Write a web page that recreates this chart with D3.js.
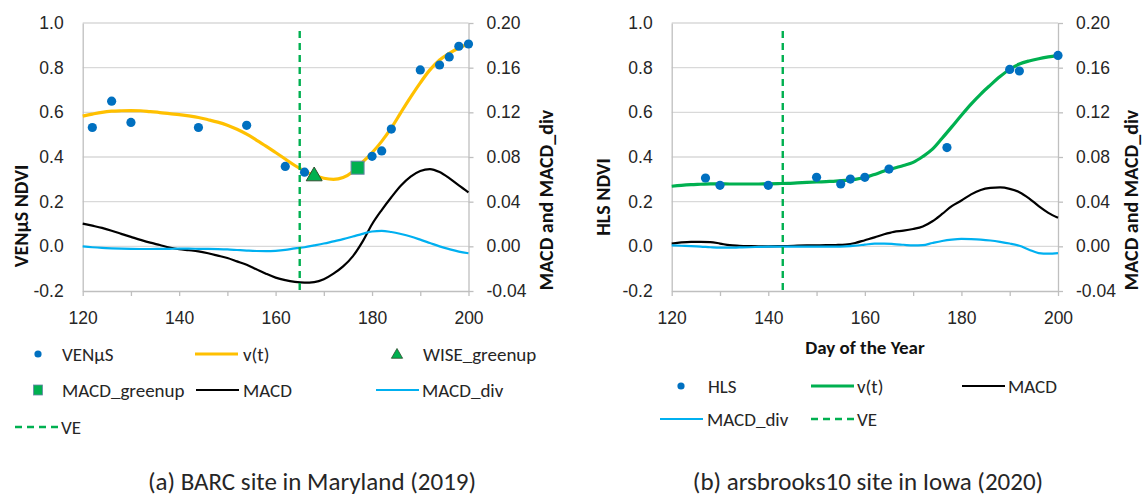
<!DOCTYPE html>
<html lang="en">
<head>
  <meta charset="UTF-8">
  <title>VENµS / HLS NDVI with MACD</title>
  <style>
    body { margin: 0; background: #fff; }
    svg { display: block; font-family: Calibri, Carlito, Lato, "Noto Sans", sans-serif; }
    .tick text { fill: #262626; font-size: 17.5px; }
    .axis .domain, .axis .tick line { stroke: #bfbfbf; stroke-width: 1.3; }
    .grid { stroke: #d9d9d9; stroke-width: 1.3; }
    .title { font-weight: bold; font-size: 20px; fill: #111; }
    .legend text { font-size: 19px; fill: #262626; }
    .caption { font-size: 25px; fill: #262626; }
  </style>
</head>
<body>
  <svg id="chart" width="1142" height="497"></svg>

  <script src="https://d3js.org/d3.v7.min.js"></script>
  <script>
    // shared x grid (day of year) for the fitted curves
    const dayGrid = [120, 122, 124, 126, 128, 130, 132, 134, 136, 138, 140,
      142, 144, 146, 148, 150, 152, 154, 156, 158, 160, 162, 164, 166, 168, 170,
      172, 174, 176, 178, 180, 182, 184, 186, 188, 190, 192, 194, 196, 198, 200];

    const ndviTicks = [-0.2, 0.0, 0.2, 0.4, 0.6, 0.8, 1.0];
    const macdTicks = [-0.04, 0.00, 0.04, 0.08, 0.12, 0.16, 0.20];
    const dayTicks = [120, 130, 140, 150, 160, 170, 180, 190, 200];

    // (a) BARC, Maryland 2019
    const barcObsDays = [122, 126, 130, 144, 154, 162, 166, 180, 182, 184, 190, 194, 196, 198, 200];
    const barcObsNdvi = [0.532, 0.65, 0.555, 0.532, 0.542, 0.358, 0.332, 0.403, 0.427, 0.525, 0.79, 0.812, 0.848, 0.896, 0.906];
    const barcVt = [0.583, 0.592, 0.600, 0.605, 0.607, 0.608, 0.607, 0.603, 0.599, 0.594, 0.590,
      0.584, 0.577, 0.567, 0.556, 0.542, 0.524, 0.502, 0.476, 0.449, 0.420, 0.391, 0.362, 0.337,
      0.318, 0.305, 0.300, 0.308, 0.334, 0.376, 0.419, 0.470, 0.530, 0.600, 0.668, 0.732, 0.790,
      0.834, 0.864, 0.888, 0.906];
    const barcMacd = [0.0204, 0.0185, 0.0165, 0.0140, 0.0112, 0.0085, 0.0058, 0.0033, 0.0012, -0.0010,
      -0.0026, -0.0035, -0.0045, -0.0062, -0.0083, -0.0105, -0.0135, -0.0165, -0.0205, -0.0245, -0.0280,
      -0.0303, -0.0318, -0.0325, -0.0320, -0.0295, -0.0245, -0.0180, -0.0090, 0.0040, 0.0198, 0.0325,
      0.0440, 0.0545, 0.0625, 0.0675, 0.0692, 0.0665, 0.0610, 0.0545, 0.0483];
    const barcMacdDiv = [0.0000, -0.0008, -0.0014, -0.0018, -0.0021, -0.0023, -0.0024, -0.0024, -0.0023,
      -0.0022, -0.0021, -0.0021, -0.0022, -0.0023, -0.0025, -0.0028, -0.0033, -0.0038, -0.0042, -0.0043,
      -0.0040, -0.0032, -0.0018, -0.0008, 0.0008, 0.0025, 0.0045, 0.0065, 0.0088, 0.0112, 0.0133, 0.0139,
      0.0128, 0.0110, 0.0088, 0.0060, 0.0030, 0.0000, -0.0025, -0.0047, -0.0062];
    const barcVE = 165;
    const barcWise = [168, 0.314];
    const barcMacdGreenup = [177, 0.352];

    // (b) arsbrooks10, Iowa 2020
    const iowaObsDays = [127, 130, 140, 150, 155, 157, 160, 165, 177, 190, 192, 200];
    const iowaObsNdvi = [0.306, 0.273, 0.273, 0.309, 0.279, 0.301, 0.309, 0.346, 0.442, 0.792, 0.785, 0.855];
    const iowaVt = [0.269, 0.273, 0.276, 0.278, 0.280, 0.280, 0.279, 0.279, 0.279, 0.279, 0.280,
      0.281, 0.282, 0.284, 0.286, 0.288, 0.290, 0.292, 0.295, 0.300, 0.308, 0.322, 0.337, 0.350,
      0.362, 0.376, 0.402, 0.435, 0.484, 0.535, 0.587, 0.637, 0.682, 0.722, 0.760, 0.793, 0.816,
      0.830, 0.840, 0.848, 0.855];
    const iowaMacd = [0.0025, 0.0035, 0.0040, 0.0040, 0.0038, 0.0025, 0.0010, 0.0005, 0.0002, 0.0000,
      0.0000, 0.0001, 0.0003, 0.0006, 0.0008, 0.0009, 0.0010, 0.0012, 0.0016, 0.0030, 0.0055, 0.0080,
      0.0108, 0.0130, 0.0140, 0.0155, 0.0178, 0.0225, 0.0290, 0.0360, 0.0410, 0.0465, 0.0505, 0.0523,
      0.0528, 0.0515, 0.0485, 0.0430, 0.0360, 0.0300, 0.0255];
    const iowaMacdDiv = [0.0008, 0.0005, 0.0002, -0.0002, -0.0008, -0.0012, -0.0012, -0.0010, -0.0008,
      -0.0005, -0.0003, -0.0003, -0.0003, -0.0003, -0.0003, -0.0003, -0.0003, -0.0003, 0.0000, 0.0006,
      0.0015, 0.0024, 0.0024, 0.0020, 0.0014, 0.0008, 0.0010, 0.0030, 0.0048, 0.0060, 0.0066, 0.0064,
      0.0060, 0.0052, 0.0040, 0.0025, 0.0005, -0.0030, -0.0060, -0.0065, -0.0060];
    const iowaVE = 143;

    const colors = {
      obs: "#0070c0",
      yellow: "#ffc000",
      green: "#00b050",
      macd: "#000000",
      div: "#00b0f0"
    };

    const svg = d3.select("#chart");
    const plotTop = 23, plotBottom = 291;

    function drawPanel(p) {
      const g = svg.append("g");
      const x = d3.scaleLinear().domain([120, 200]).range([p.x0, p.x1]);
      const y = d3.scaleLinear().domain([-0.2, 1.0]).range([plotBottom, plotTop]);
      const y2 = d3.scaleLinear().domain([-0.04, 0.20]).range([plotBottom, plotTop]);

      // horizontal gridlines
      g.selectAll("line.grid")
        .data(ndviTicks.filter(t => t > -0.2))
        .enter().append("line")
        .attr("class", "grid")
        .attr("x1", p.x0).attr("x2", p.x1)
        .attr("y1", d => y(d)).attr("y2", d => y(d));

      g.append("g")
        .attr("class", "axis")
        .attr("transform", `translate(${p.x0},0)`)
        .call(d3.axisLeft(y).tickValues(ndviTicks).tickSize(0).tickPadding(19)
          .tickFormat(d => d.toFixed(1)));

      g.append("g")
        .attr("class", "axis")
        .attr("transform", `translate(${p.x1},0)`)
        .call(d3.axisRight(y2).tickValues(macdTicks).tickSize(5).tickSizeOuter(0).tickPadding(13)
          .tickFormat(d => d.toFixed(2)));

      g.append("g")
        .attr("class", "axis")
        .attr("transform", `translate(0,${plotBottom})`)
        .call(d3.axisBottom(x).tickValues(dayTicks).tickSize(5).tickSizeOuter(0).tickPadding(16)
          .tickFormat(d => d % 20 === 0 ? d : ""));

      g.selectAll(".axis .domain").attr("fill", "none");

      const lineNdvi = d3.line().x((d, i) => x(dayGrid[i])).y(d => y(d)).curve(d3.curveMonotoneX);
      const lineMacd = d3.line().x((d, i) => x(dayGrid[i])).y(d => y2(d)).curve(d3.curveMonotoneX);

      g.append("path").attr("d", lineMacd(p.macd))
        .attr("fill", "none").attr("stroke", colors.macd).attr("stroke-width", 2.2);
      g.append("path").attr("d", lineMacd(p.macdDiv))
        .attr("fill", "none").attr("stroke", colors.div).attr("stroke-width", 2.2);
      g.append("path").attr("d", lineNdvi(p.vt))
        .attr("fill", "none").attr("stroke", p.vtColor).attr("stroke-width", 3.2);

      g.append("line")
        .attr("x1", x(p.ve)).attr("x2", x(p.ve))
        .attr("y1", plotTop + 8).attr("y2", plotBottom)
        .attr("stroke", colors.green).attr("stroke-width", 2.4)
        .attr("stroke-dasharray", "7,5");

      g.selectAll("circle.obs")
        .data(p.obsDays)
        .enter().append("circle")
        .attr("cx", d => x(d))
        .attr("cy", (d, i) => y(p.obsNdvi[i]))
        .attr("r", 4.6)
        .attr("fill", colors.obs);

      if (p.wise) {
        g.append("path")
          .attr("d", d3.symbol(d3.symbolTriangle, 110)())
          .attr("transform", `translate(${x(p.wise[0])},${y(p.wise[1])})`)
          .attr("fill", colors.green).attr("stroke", "#2f4f2f").attr("stroke-width", 1);
      }
      if (p.greenup) {
        g.append("rect")
          .attr("x", x(p.greenup[0]) - 6.5).attr("y", y(p.greenup[1]) - 6.5)
          .attr("width", 13).attr("height", 13)
          .attr("fill", colors.green).attr("stroke", "#6a86a8").attr("stroke-width", 1);
      }

      // axis titles
      svg.append("text").attr("class", "title")
        .attr("transform", `translate(${p.leftTitleX},${p.leftTitleY}) rotate(-90)`)
        .attr("text-anchor", "middle").attr("dominant-baseline", "central")
        .text(p.leftTitle);
      svg.append("text").attr("class", "title")
        .attr("transform", `translate(${p.rightTitleX},200) rotate(-90)`)
        .attr("text-anchor", "middle").attr("dominant-baseline", "central")
        .text("MACD and MACD_div");
    }

    function drawLegend(items) {
      const lg = svg.append("g").attr("class", "legend");
      items.forEach(it => {
        const row = lg.append("g").attr("transform", `translate(0,${it.y})`);
        if (it.kind === "dot") {
          row.append("circle").attr("cx", it.mx).attr("cy", 0).attr("r", 3.6).attr("fill", colors.obs);
        } else if (it.kind === "tri") {
          row.append("path").attr("d", d3.symbol(d3.symbolTriangle, 55)())
            .attr("transform", `translate(${it.mx},1)`)
            .attr("fill", colors.green).attr("stroke", "#2f4f2f").attr("stroke-width", 0.8);
        } else if (it.kind === "sq") {
          row.append("rect").attr("x", it.mx - 4.5).attr("y", -5).attr("width", 9).attr("height", 10)
            .attr("fill", colors.green).attr("stroke", "#6a86a8").attr("stroke-width", 0.8);
        } else {
          row.append("line").attr("x1", it.mx).attr("x2", it.mx + 43).attr("y1", 0).attr("y2", 0)
            .attr("stroke", it.color)
            .attr("stroke-width", it.kind === "dash" ? 2.4 : (it.width || 2.2))
            .attr("stroke-dasharray", it.kind === "dash" ? "7,5" : null);
        }
        row.append("text").attr("x", it.tx).attr("y", 0)
          .attr("dominant-baseline", "central").text(it.label);
      });
    }

    drawPanel({
      x0: 82.7, x1: 468.5,
      obsDays: barcObsDays, obsNdvi: barcObsNdvi,
      vt: barcVt, macd: barcMacd, macdDiv: barcMacdDiv,
      vtColor: colors.yellow, ve: barcVE,
      wise: barcWise, greenup: barcMacdGreenup,
      leftTitle: "VENµS NDVI", leftTitleX: 21, leftTitleY: 216,
      rightTitleX: 546
    });

    drawPanel({
      x0: 671.7, x1: 1058,
      obsDays: iowaObsDays, obsNdvi: iowaObsNdvi,
      vt: iowaVt, macd: iowaMacd, macdDiv: iowaMacdDiv,
      vtColor: colors.green, ve: iowaVE,
      leftTitle: "HLS NDVI", leftTitleX: 603, leftTitleY: 197,
      rightTitleX: 1131
    });

    svg.append("text").attr("class", "title")
      .attr("x", 865).attr("y", 347)
      .attr("text-anchor", "middle").attr("dominant-baseline", "central")
      .style("font-size", "19px")
      .text("Day of the Year");

    drawLegend([
      { kind: "dot", mx: 38, tx: 62, y: 354, label: "VENµS" },
      { kind: "line", mx: 195, tx: 243, y: 354, color: colors.yellow, width: 3.2, label: "v(t)" },
      { kind: "tri", mx: 397, tx: 423, y: 354, label: "WISE_greenup" },
      { kind: "sq", mx: 38, tx: 62, y: 390, label: "MACD_greenup" },
      { kind: "line", mx: 196, tx: 243, y: 390, color: colors.macd, label: "MACD" },
      { kind: "line", mx: 376, tx: 422, y: 390, color: colors.div, label: "MACD_div" },
      { kind: "dash", mx: 15, tx: 61, y: 427, color: colors.green, label: "VE" },

      { kind: "dot", mx: 681, tx: 708, y: 386, label: "HLS" },
      { kind: "line", mx: 811, tx: 857, y: 386, color: colors.green, width: 3.2, label: "v(t)" },
      { kind: "line", mx: 962, tx: 1008, y: 386, color: colors.macd, label: "MACD" },
      { kind: "line", mx: 660, tx: 707, y: 419, color: colors.div, label: "MACD_div" },
      { kind: "dash", mx: 811, tx: 857, y: 419, color: colors.green, label: "VE" }
    ]);

    svg.append("text").attr("class", "caption")
      .attr("x", 312).attr("y", 481)
      .attr("text-anchor", "middle").attr("dominant-baseline", "central")
      .text("(a) BARC site in Maryland (2019)");
    svg.append("text").attr("class", "caption")
      .attr("x", 868).attr("y", 481)
      .attr("text-anchor", "middle").attr("dominant-baseline", "central")
      .text("(b) arsbrooks10 site in Iowa (2020)");
  </script>
</body>
</html>
